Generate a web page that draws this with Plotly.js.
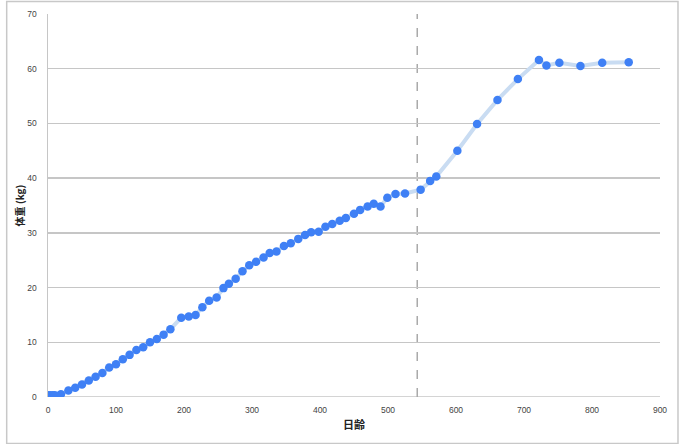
<!DOCTYPE html>
<html>
<head>
<meta charset="utf-8">
<script src="https://cdn.plot.ly/plotly-3.0.1.min.js"></script>
<style>html,body{margin:0;padding:0;background:#fff;}#chart{width:680px;height:444px;}</style>
</head>
<body>
<div id="chart"></div>
<script>
const ageDays = [0, 3, 7, 10, 19, 30, 40, 50, 60, 70, 80, 90, 100, 110, 120, 130, 140, 150, 160, 170, 180,
  196, 207, 217, 227, 237, 248, 258, 266, 276, 286, 296, 306, 317, 326, 336, 347, 357, 368, 378, 387, 398,
  408, 418, 429, 438, 450, 459, 470, 479, 489, 499, 511, 525, 548, 562, 571, 602, 631, 661, 691, 722, 733,
  752, 783, 815, 854];
const weightKg = [0.3, 0.3, 0.3, 0.3, 0.5, 1.2, 1.7, 2.3, 3.0, 3.7, 4.4, 5.4, 6.0, 6.9, 7.7, 8.6, 9.1, 10.0, 10.6, 11.4, 12.4,
  14.5, 14.7, 15.0, 16.4, 17.6, 18.2, 19.9, 20.7, 21.6, 23.0, 24.1, 24.7, 25.5, 26.3, 26.6, 27.6, 28.1, 28.9, 29.6, 30.1, 30.2,
  31.1, 31.6, 32.2, 32.7, 33.5, 34.2, 34.8, 35.3, 34.8, 36.4, 37.1, 37.2, 37.9, 39.5, 40.3, 45.0, 49.9, 54.3, 58.1, 61.6, 60.6,
  61.1, 60.5, 61.1, 61.2];
const markerDay = 543;
const xTicks = [0, 100, 200, 300, 400, 500, 600, 700, 800, 900];
const yTicks = [0, 10, 20, 30, 40, 50, 60, 70];

const trace = {
  x: ageDays, y: weightKg, type: 'scatter', mode: 'lines+markers',
  line: {color: '#c9dcf2', width: 4},
  marker: {color: '#3f80f5', size: 8.5},
  hoverinfo: 'skip'
};
const tickFont = {family: 'Liberation Sans, Arial, sans-serif', size: 8.5, color: '#444'};
const layout = {
  width: 680, height: 444,
  margin: {l: 48, r: 20, t: 14, b: 47},
  paper_bgcolor: '#fff', plot_bgcolor: '#fff',
  showlegend: false,
  xaxis: {
    range: [0, 900], tickvals: xTicks, ticktext: xTicks.map(String),
    showgrid: false, zeroline: false, showline: false, ticks: '',
    tickfont: tickFont, ticklabelstandoff: 6,
    title: {text: '日齢', font: {family: 'Noto Sans CJK JP, sans-serif', size: 11, color: '#222', weight: 'bold'}, standoff: 7}
  },
  yaxis: {
    range: [0, 70], tickvals: yTicks, ticktext: yTicks.map(String),
    showgrid: true, gridcolor: '#c6c6c6', gridwidth: 1.5,
    zeroline: false, showline: true, linecolor: '#c6c6c6', linewidth: 1.5, ticks: '',
    tickfont: tickFont, ticklabelstandoff: 8,
    title: {text: '体重 (kg)', font: {family: 'Noto Sans CJK JP, sans-serif', size: 10, color: '#222', weight: 'bold'}, standoff: 1}
  },
  shapes: [
    {type: 'line', xref: 'x', yref: 'y', x0: 0, x1: 900, y0: 0, y1: 0, line: {color: '#c6c6c6', width: 1.5}, layer: 'below'},
    {type: 'line', xref: 'x', yref: 'y', x0: markerDay, x1: markerDay, y0: 0, y1: 70, line: {color: '#aaaaaa', width: 1.5, dash: 'dash'}, layer: 'below'},
    {type: 'rect', xref: 'paper', yref: 'paper', x0: -0.0675, x1: 1.0294, y0: -0.1215, y1: 1.0325, line: {color: '#c8c8c8', width: 1.5}}
  ]
};
Plotly.newPlot('chart', [trace], layout, {displayModeBar: false, staticPlot: true});
</script>
</body>
</html>
